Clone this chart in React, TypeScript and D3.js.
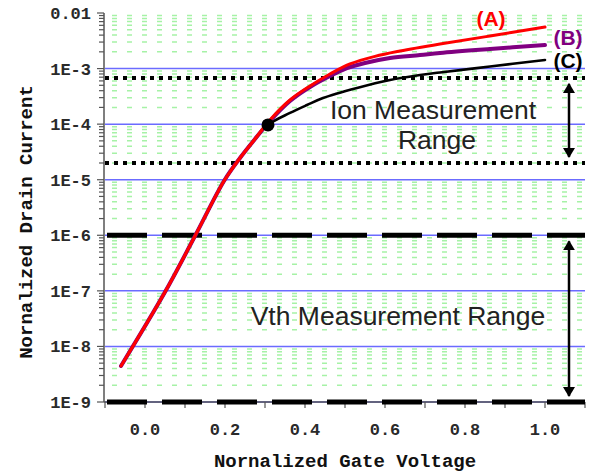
import { useEffect, useRef } from 'react'
import * as d3 from 'd3'

const WIDTH = 596
const HEIGHT = 475

// shared sub-threshold part (all three curves overlap here)
const SHARED_VG = [-0.06, 0.05, 0.125, 0.1975, 0.2375, 0.275]
const SHARED_ID = [4.45e-9, 9.5e-8, 9.7e-7, 9.5e-6, 2.46e-5, 5.4e-5]

const A_VG = [0.3125, 0.3625, 0.4125, 0.4625, 0.5125, 0.575, 0.6375, 0.7375, 0.8625, 1.0]
const A_ID = [1.19e-4, 2.72e-4, 4.86e-4, 7.99e-4, 1.21e-3, 1.66e-3, 2.07e-3, 2.77e-3, 3.86e-3, 5.6e-3]

const B_VG = [0.3125, 0.3625, 0.4125, 0.4625, 0.505, 0.55, 0.6125, 0.6875, 0.7375, 0.8625, 1.0]
const B_ID = [1.14e-4, 2.61e-4, 4.66e-4, 7.35e-4, 1.02e-3, 1.26e-3, 1.55e-3, 1.75e-3, 1.91e-3, 2.25e-3, 2.65e-3]

const C_VG = [0.3075, 0.3625, 0.405, 0.445, 0.53, 0.6125, 0.6875, 0.7375, 0.8625, 1.0]
const C_ID = [9.7e-5, 1.59e-4, 2.21e-4, 2.95e-4, 4.47e-4, 6.23e-4, 7.66e-4, 8.5e-4, 1.09e-3, 1.43e-3]

const DOT_VG = 0.3075
const DOT_ID = 9.7e-5

const X_TICKS = [0, 0.2, 0.4, 0.6, 0.8, 1.0]
const X_LABELS = ['0.0', '0.2', '0.4', '0.6', '0.8', '1.0']
const Y_TICKS = [1e-9, 1e-8, 1e-7, 1e-6, 1e-5, 1e-4, 1e-3, 1e-2]
const Y_LABELS = ['1E-9', '1E-8', '1E-7', '1E-6', '1E-5', '1E-4', '1E-3', '0.01']

const ION_RANGE = [6.8e-4, 2.0e-5]
const VTH_RANGE = [1e-6, 1e-9]
const ARROW_VG = 1.06

const SERIES = [
  { name: '(C)', vg: C_VG, id: C_ID, color: '#000000', width: 2.6 },
  { name: '(B)', vg: B_VG, id: B_ID, color: '#800080', width: 4 },
  { name: '(A)', vg: A_VG, id: A_ID, color: '#ff0000', width: 3 },
]

export default function App() {
  const svgRef = useRef<SVGSVGElement | null>(null)

  useEffect(() => {
    if (!svgRef.current) {
      return
    }
    const svg = d3.select(svgRef.current)
    svg.selectAll('*').remove()

    const x = d3.scaleLinear().domain([-0.1, 1.1]).range([105, 585])
    const y = d3.scaleLog().domain([1e-9, 1e-2]).range([402, 13])
    const [x0, x1] = x.range()

    svg.append('rect').attr('width', WIDTH).attr('height', HEIGHT).attr('fill', '#ffffff')

    // green minor grid (dashes line up into columns)
    const minors: number[] = []
    for (let e = -9; e < -2; e++) {
      for (let m = 2; m <= 9; m++) minors.push(m * Math.pow(10, e))
    }
    svg
      .append('g')
      .selectAll('line')
      .data(minors)
      .enter()
      .append('line')
      .attr('x1', x0 + 7)
      .attr('x2', x1)
      .attr('y1', (d: number) => y(d))
      .attr('y2', (d: number) => y(d))
      .attr('stroke', '#a6f2a6')
      .attr('stroke-width', 1.5)
      .attr('stroke-dasharray', '5,10')

    // blue decade lines
    svg
      .append('g')
      .selectAll('line')
      .data(Y_TICKS.slice(0, -1))
      .enter()
      .append('line')
      .attr('x1', x0)
      .attr('x2', x1)
      .attr('y1', (d: number) => y(d))
      .attr('y2', (d: number) => y(d))
      .attr('stroke', '#6b6bff')
      .attr('stroke-width', 1.5)

    // axes
    const axisColor = '#555555'
    svg
      .append('line')
      .attr('x1', x0 - 1)
      .attr('x2', x0 - 1)
      .attr('y1', y(1e-2))
      .attr('y2', y(1e-9))
      .attr('stroke', axisColor)
      .attr('stroke-width', 1.5)
    svg
      .append('line')
      .attr('x1', x0 - 1)
      .attr('x2', x1)
      .attr('y1', y(1e-9))
      .attr('y2', y(1e-9))
      .attr('stroke', axisColor)
      .attr('stroke-width', 1.5)

    svg
      .append('g')
      .selectAll('line')
      .data([...Y_TICKS, ...minors])
      .enter()
      .append('line')
      .attr('x1', (d: number) => (Y_TICKS.includes(d) ? x0 - 8 : x0 - 6))
      .attr('x2', x0 - 1)
      .attr('y1', (d: number) => y(d))
      .attr('y2', (d: number) => y(d))
      .attr('stroke', axisColor)
      .attr('stroke-width', 1.2)

    svg
      .append('g')
      .selectAll('line')
      .data(d3.range(-1, 12).map((i) => i / 10))
      .enter()
      .append('line')
      .attr('x1', (d: number) => x(d))
      .attr('x2', (d: number) => x(d))
      .attr('y1', y(1e-9))
      .attr('y2', y(1e-9) + 6)
      .attr('stroke', axisColor)
      .attr('stroke-width', 1.2)

    svg
      .append('g')
      .selectAll('text')
      .data(Y_TICKS)
      .enter()
      .append('text')
      .attr('x', x0 - 14)
      .attr('y', (d: number) => y(d) + 6)
      .attr('text-anchor', 'end')
      .attr('font-family', '"Liberation Mono", monospace')
      .attr('font-weight', 700)
      .attr('font-size', 17)
      .attr('fill', '#2a2a2a')
      .text((_: number, i: number) => Y_LABELS[i])

    svg
      .append('g')
      .selectAll('text')
      .data(X_TICKS)
      .enter()
      .append('text')
      .attr('x', (d: number) => x(d))
      .attr('y', 435)
      .attr('text-anchor', 'middle')
      .attr('font-family', '"Liberation Mono", monospace')
      .attr('font-weight', 700)
      .attr('font-size', 17)
      .attr('fill', '#2a2a2a')
      .text((_: number, i: number) => X_LABELS[i])

    svg
      .append('text')
      .attr('x', 345)
      .attr('y', 467)
      .attr('text-anchor', 'middle')
      .attr('font-family', '"Liberation Mono", monospace')
      .attr('font-weight', 700)
      .attr('font-size', 19)
      .attr('fill', '#111111')
      .text('Nornalized Gate Voltage')

    svg
      .append('text')
      .attr('transform', 'translate(32, 222) rotate(-90)')
      .attr('text-anchor', 'middle')
      .attr('font-family', '"Liberation Mono", monospace')
      .attr('font-weight', 700)
      .attr('font-size', 19)
      .attr('fill', '#111111')
      .text('Nornalized Drain Current')

    // measurement range boundaries
    svg
      .append('g')
      .selectAll('line')
      .data(ION_RANGE)
      .enter()
      .append('line')
      .attr('x1', x0)
      .attr('x2', x1)
      .attr('y1', (d: number) => y(d))
      .attr('y2', (d: number) => y(d))
      .attr('stroke', '#000000')
      .attr('stroke-width', 4)
      .attr('stroke-dasharray', '4,5')

    svg
      .append('g')
      .selectAll('line')
      .data(VTH_RANGE)
      .enter()
      .append('line')
      .attr('x1', x0 + 2)
      .attr('x2', x1)
      .attr('y1', (d: number) => y(d))
      .attr('y2', (d: number) => y(d))
      .attr('stroke', '#000000')
      .attr('stroke-width', 5)
      .attr('stroke-dasharray', '40,15')

    // curves
    const line = d3
      .line<[number, number]>()
      .x((d) => x(d[0]))
      .y((d) => y(d[1]))
      .curve(d3.curveCatmullRom.alpha(0.5))

    SERIES.forEach((s) => {
      const pts: [number, number][] = [
        ...SHARED_VG.map((v, i) => [v, SHARED_ID[i]] as [number, number]),
        ...s.vg.map((v, i) => [v, s.id[i]] as [number, number]),
      ]
      svg
        .append('path')
        .attr('d', line(pts))
        .attr('fill', 'none')
        .attr('stroke', s.color)
        .attr('stroke-width', s.width)
        .attr('stroke-linecap', 'round')
        .attr('stroke-linejoin', 'round')
    })

    svg
      .append('circle')
      .attr('cx', x(DOT_VG))
      .attr('cy', y(DOT_ID))
      .attr('r', 6.5)
      .attr('fill', '#000000')

    // curve labels
    const labelPos = [
      { text: '(A)', x: 491, y: 26, color: '#ff0000' },
      { text: '(B)', x: 568, y: 45, color: '#800080' },
      { text: '(C)', x: 568, y: 68, color: '#000000' },
    ]
    svg
      .append('g')
      .selectAll('text')
      .data(labelPos)
      .enter()
      .append('text')
      .attr('x', (d: { x: number }) => d.x)
      .attr('y', (d: { y: number }) => d.y)
      .attr('text-anchor', 'middle')
      .attr('font-family', '"Liberation Sans", Arial, sans-serif')
      .attr('font-weight', 700)
      .attr('font-size', 21)
      .attr('fill', (d: { color: string }) => d.color)
      .text((d: { text: string }) => d.text)

    // double arrows
    const defs = svg.append('defs')
    defs
      .append('marker')
      .attr('id', 'range-arrow')
      .attr('viewBox', '0 0 10 12')
      .attr('refX', 9)
      .attr('refY', 6)
      .attr('markerWidth', 10)
      .attr('markerHeight', 12)
      .attr('markerUnits', 'userSpaceOnUse')
      .attr('orient', 'auto-start-reverse')
      .append('path')
      .attr('d', 'M 0 0 L 10 6 L 0 12 z')
      .attr('fill', '#000000')

    const arrows = [ION_RANGE, VTH_RANGE]
    svg
      .append('g')
      .selectAll('line')
      .data(arrows)
      .enter()
      .append('line')
      .attr('x1', x(ARROW_VG))
      .attr('x2', x(ARROW_VG))
      .attr('y1', (d: number[]) => y(d[0]) + 6)
      .attr('y2', (d: number[]) => y(d[1]) - 6)
      .attr('stroke', '#000000')
      .attr('stroke-width', 2.5)
      .attr('marker-start', 'url(#range-arrow)')
      .attr('marker-end', 'url(#range-arrow)')

    // annotations
    const notes = [
      { text: 'Ion Measurement', x: 433, y: 119 },
      { text: 'Range', x: 437, y: 149 },
      { text: 'Vth Measurement Range', x: 398, y: 325 },
    ]
    svg
      .append('g')
      .selectAll('text')
      .data(notes)
      .enter()
      .append('text')
      .attr('x', (d: { x: number }) => d.x)
      .attr('y', (d: { y: number }) => d.y)
      .attr('text-anchor', 'middle')
      .attr('font-family', '"Liberation Sans", Arial, sans-serif')
      .attr('font-size', 26.5)
      .attr('fill', '#222222')
      .text((d: { text: string }) => d.text)
  }, [])

  return (
    <svg
      ref={svgRef}
      width={WIDTH}
      height={HEIGHT}
      style={{ position: 'absolute', left: 0, top: 0 }}
      role="img"
      aria-label="Normalized drain current versus gate voltage with measurement ranges"
    />
  )
}
